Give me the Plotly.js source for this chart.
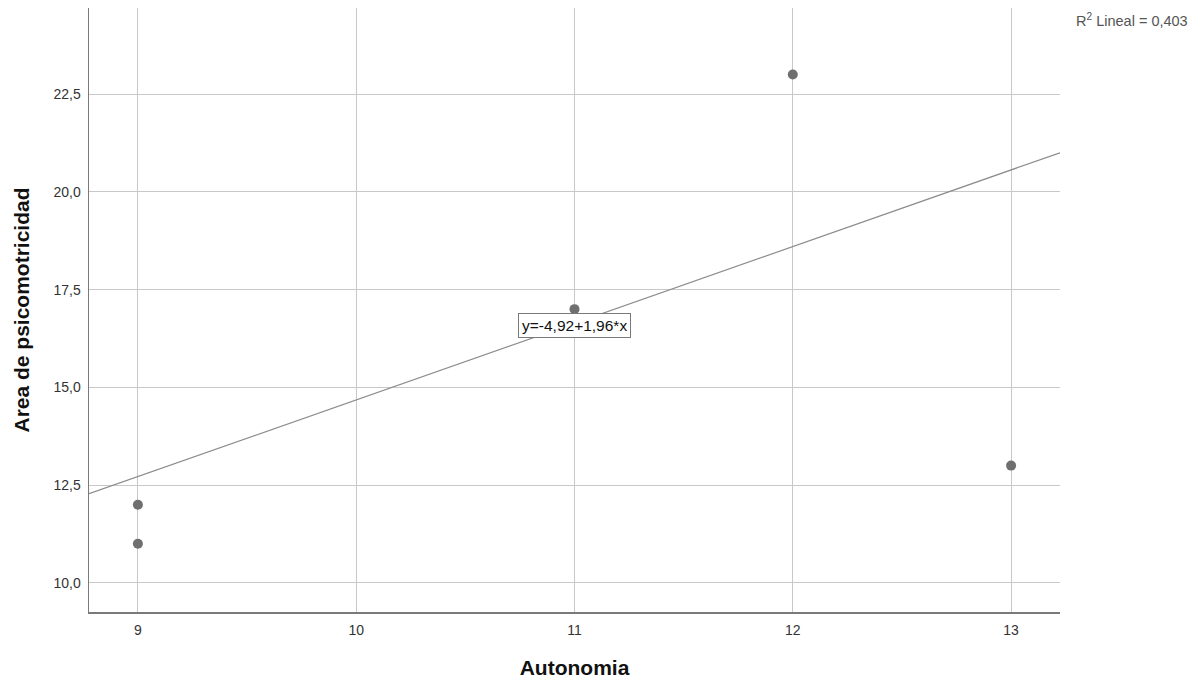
<!DOCTYPE html>
<html>
<head>
<meta charset="utf-8">
<script src="https://cdn.plot.ly/plotly-3.0.1.min.js"></script>
<style>html,body{margin:0;padding:0;background:#fff;}#chart{width:1192px;height:690px;}</style>
</head>
<body>
<div id="chart"></div>
<script>
const autonomia = [9, 9, 11, 12, 13];
const psicomotricidad = [12, 11, 17, 23, 13];
const fitIntercept = -4.92;
const fitSlope = 1.96;
const fitLabel = "y=-4,92+1,96*x";
const r2Label = "R<sup>2</sup> Lineal = 0,403";
const xTicks = [9, 10, 11, 12, 13];
const yTicks = [10, 12.5, 15, 17.5, 20, 22.5];
const yTickLabels = ["10,0", "12,5", "15,0", "17,5", "20,0", "22,5"];

const xRange = [8.776, 13.224];
const yRange = [9.257, 24.70];
const fitX = xRange.slice();
const fitY = fitX.map(x => fitIntercept + fitSlope * x);

const font = "Liberation Sans, Arial, sans-serif";

const data = [
  {x: fitX, y: fitY, mode: "lines", type: "scatter",
   line: {color: "#8c8c8c", width: 1.2}, hoverinfo: "skip", showlegend: false},
  {x: autonomia, y: psicomotricidad, mode: "markers", type: "scatter",
   marker: {color: "#6f6f6f", size: 10}, showlegend: false}
];

const layout = {
  width: 1192, height: 690,
  margin: {l: 89, r: 132, t: 8, b: 78},
  paper_bgcolor: "#fff", plot_bgcolor: "#fff",
  font: {family: font, size: 14, color: "#333"},
  xaxis: {
    range: xRange, tickvals: xTicks, ticktext: xTicks.map(String),
    showgrid: true, gridcolor: "#c8c8c8", gridwidth: 1,
    zeroline: false, showline: true, linecolor: "#7a7a7a", linewidth: 1.5,
    ticks: "", ticklabelstandoff: 5,
    tickfont: {family: font, size: 14, color: "#333"},
    title: {text: "Autonomia", font: {family: font, size: 21, color: "#111", weight: "bold"}, standoff: 23}
  },
  yaxis: {
    range: yRange, tickvals: yTicks, ticktext: yTickLabels,
    showgrid: true, gridcolor: "#c8c8c8", gridwidth: 1,
    zeroline: false, showline: true, linecolor: "#7a7a7a", linewidth: 1.5,
    ticks: "", ticklabelstandoff: 4,
    tickfont: {family: font, size: 14, color: "#333"},
    title: {text: "Area de psicomotricidad", font: {family: font, size: 21, color: "#111", weight: "bold"}, standoff: 18}
  },
  annotations: [
    {x: 11, y: 16.58, xref: "x", yref: "y", text: fitLabel,
     showarrow: false, bgcolor: "#fff", bordercolor: "#7a7a7a", borderwidth: 1, borderpad: 3,
     font: {family: font, size: 15.5, color: "#111"}},
    {x: 1, y: 1, xref: "paper", yref: "paper", text: r2Label, showarrow: false,
     font: {family: font, size: 14.5, color: "#555"}}
  ]
};
const plotW = 1192 - 89 - 132, plotH = 690 - 8 - 78;
layout.annotations[1].x = (1190 - 89) / plotW;
layout.annotations[1].xanchor = "right";
layout.annotations[1].y = (690 - 78 - 20) / plotH;
layout.annotations[1].yanchor = "middle";

Plotly.newPlot("chart", data, layout, {displayModeBar: false, staticPlot: true});
</script>
</body>
</html>
